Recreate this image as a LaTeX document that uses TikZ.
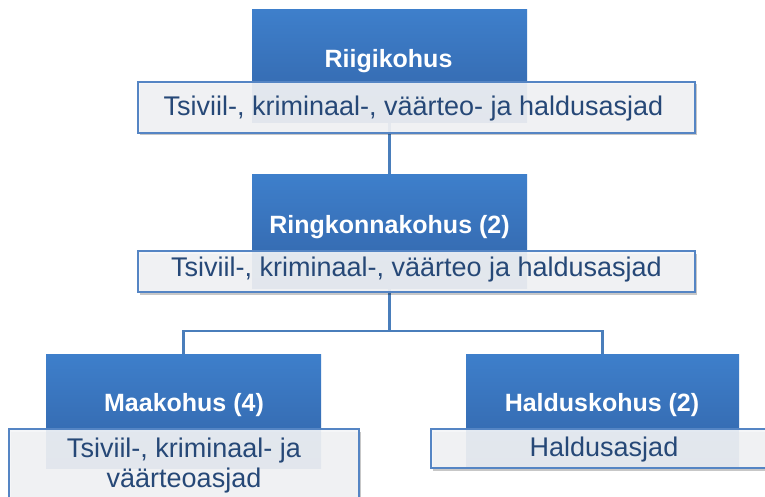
\documentclass[tikz,border=0pt]{standalone}
\usepackage{fontspec}
\setmainfont{Liberation Sans}
\usetikzlibrary{shadows}
\pgfdeclarelayer{background}
\pgfsetlayers{background,main}
\definecolor{boxtop}{HTML}{3E7FCB}
\definecolor{boxbot}{HTML}{3264A8}
\definecolor{panelfill}{HTML}{F5F6F8}
\definecolor{panelline}{HTML}{5585C4}
\definecolor{wire}{HTML}{4A7EBB}
\definecolor{caption}{HTML}{264877}
\tikzset{
  court/.style={anchor=north west, inner sep=0pt, outer sep=0pt,
    top color=boxtop, bottom color=boxbot, draw=none},
  panel/.style={anchor=north west, inner sep=0pt, outer sep=0pt,
    draw=panelline, line width=1.4pt, fill=panelfill, fill opacity=0.91,
    drop shadow={shadow xshift=1.5pt, shadow yshift=-2.5pt, fill=black, opacity=0.22}},
  title/.style={anchor=base, text=white, inner sep=0pt,
    font=\bfseries\fontsize{25}{30}\selectfont},
  remit/.style={anchor=base, text=caption, inner sep=0pt, align=center,
    font=\fontsize{27}{30}\selectfont},
  wirestyle/.style={draw=wire, line width=2.2pt}
}
\begin{document}
\begin{tikzpicture}[x=1pt, y=-1pt]
  \clip (0,0) rectangle (765,497);

  % court boxes
  \node[court, minimum width=275pt, minimum height=113pt] (b1) at (252,10) {};
  \node[court, minimum width=275pt, minimum height=113pt] (b2) at (252,175) {};
  \node[court, minimum width=275pt, minimum height=114pt] (b3) at (46,354) {};
  \node[court, minimum width=273pt, minimum height=114pt] (b4) at (466,354) {};

  % jurisdiction panels
  \node[panel, minimum width=557pt, minimum height=51pt] (w1) at (138,82) {};
  \node[panel, minimum width=557pt, minimum height=41pt] (w2) at (138,251) {};
  \node[panel, minimum width=350pt, minimum height=90pt] (w3) at (9,429) {};
  \node[panel, minimum width=345pt, minimum height=39pt] (w4) at (431,429) {};

  % court names
  \node[title] (t1) at (388.5,67.5) {Riigikohus};
  \node[title] (t2) at (389.5,233) {Ringkonnakohus (2)};
  \node[title] (t3) at (184,411) {Maakohus (4)};
  \node[title] (t4) at (602,411) {Halduskohus (2)};

  % case types
  \node[remit] (r1) at (413.5,116) {Tsiviil-, kriminaal-, väärteo- ja haldusasjad};
  \node[remit] (r2) at (416.5,276.5) {Tsiviil-, kriminaal-, väärteo ja haldusasjad};
  \node[remit] (r3) at (184,487) {Tsiviil-, kriminaal- ja\\väärteoasjad};
  \node[remit] (r4) at (604,456) {Haldusasjad};

  % hierarchy connectors, behind the boxes
  \coordinate (fork) at (389.5,331);
  \begin{pgfonlayer}{background}
    \fill[white] (0,0) rectangle (765,497);
    \draw[wirestyle] (b1.south) -- (b2.north);
    \draw[wirestyle] (b2.south) -- (fork);
    \draw[wirestyle] (fork) -| (b3.north);
    \draw[wirestyle] (fork) -| (b4.north);
  \end{pgfonlayer}
\end{tikzpicture}
\end{document}
